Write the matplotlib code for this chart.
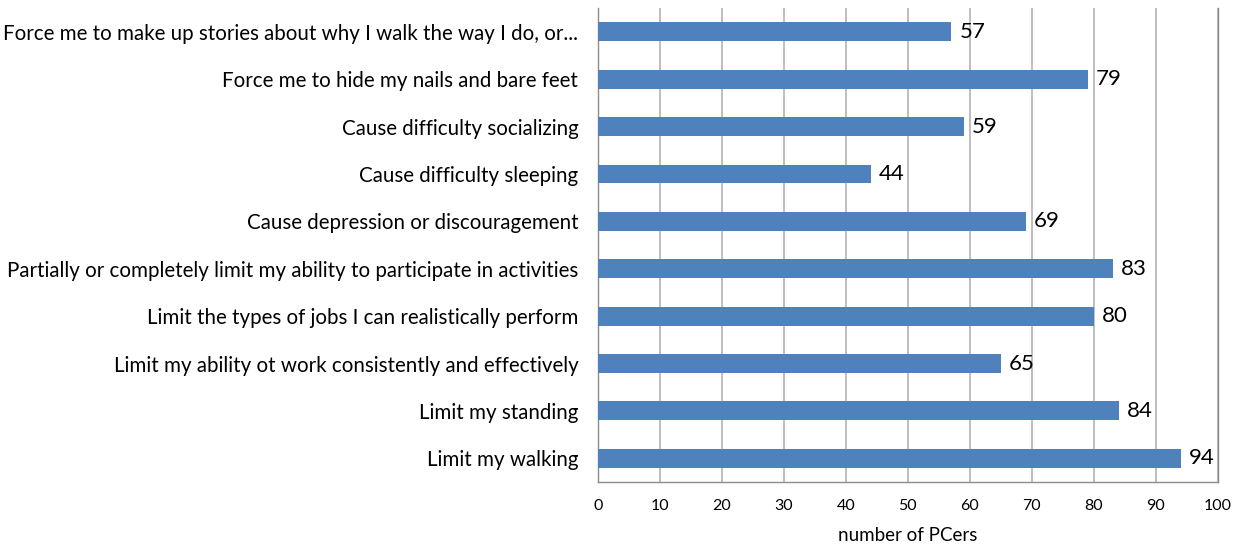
import matplotlib
matplotlib.use("Agg")
import matplotlib.pyplot as plt

categories = [
    "Limit my walking",
    "Limit my standing",
    "Limit my ability ot work consistently and effectively",
    "Limit the types of jobs I can realistically perform",
    "Partially or completely limit my ability to participate in activities",
    "Cause depression or discouragement",
    "Cause difficulty sleeping",
    "Cause difficulty socializing",
    "Force me to hide my nails and bare feet",
    "Force me to make up stories about why I walk the way I do, or...",
]
values = [94, 84, 65, 80, 83, 69, 44, 59, 79, 57]
xticks = list(range(0, 101, 10))
xlabel = "number of PCers"

plt.rcParams['font.family'] = ['Lato', 'DejaVu Sans']

fig = plt.figure(figsize=(12.46, 5.44), dpi=100)
ax = fig.add_axes([0.4797, 0.114, 0.4978, 0.871])

bars = ax.barh(range(len(categories)), values, height=0.4, color='#4f81bd', zorder=3)
for i, v in enumerate(values):
    ax.text(v + 1.3, i, str(v), va='center', ha='left', fontsize=16, color='#000000')

ax.set_xlim(0, 100)
ax.set_ylim(-0.5, len(categories) - 0.5)
ax.set_xticks(xticks)
ax.set_yticks(range(len(categories)))
ax.set_yticklabels(categories, fontsize=14.8)
ax.tick_params(axis='y', length=0, pad=14)
ax.tick_params(axis='x', length=0, pad=12, labelsize=11.5)
ax.xaxis.grid(True, color='#b3b3b3', linewidth=1.2, zorder=0)
ax.set_xlabel(xlabel, fontsize=13.5, labelpad=10)

for s in ['top']:
    ax.spines[s].set_visible(False)
for s in ['left', 'bottom', 'right']:
    ax.spines[s].set_color('#8c8c8c')
    ax.spines[s].set_linewidth(1.0)

fig.savefig("out.png", dpi=100)
